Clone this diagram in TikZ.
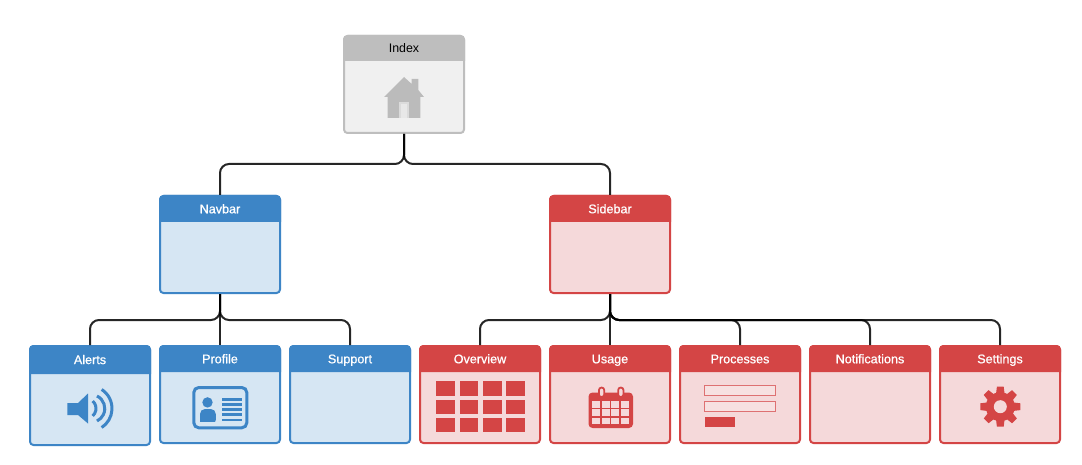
\documentclass[tikz,border=0pt]{standalone}
\usepackage{fontspec}
\setmainfont{Liberation Sans}
\newfontfamily\hdbold[FakeBold=0.8]{Liberation Sans}
\definecolor{bluec}{HTML}{3D85C6}
\definecolor{bluef}{HTML}{D6E6F3}
\definecolor{redc}{HTML}{D44545}
\definecolor{redf}{HTML}{F5D9DA}
\definecolor{grayc}{HTML}{BEBEBE}
\definecolor{grayh}{HTML}{BBBBBB}
\definecolor{grayf}{HTML}{F0F0F0}
\tikzset{
  cardbody/.style={draw=#1,line width=2pt,rounded corners=3.5pt,minimum width=120pt,inner sep=0pt},
  conn/.style={draw=black,opacity=.85,line width=2pt,rounded corners=9pt},
  hdtext/.style={font=\hdbold\fontsize{12.6}{14}\selectfont,text=white,inner sep=0pt,anchor=base},
}
% name, cx, top, bottom, header bottom, label, fill, line, text options
\newcommand{\mycard}[9]{%
  \node[cardbody=#8,fill=#7,minimum height=#4-#3-2] (#1) at (#2,{(#3+#4)/2}) {};
  \fill[#8] (#2-61,#5) [rounded corners=4.5pt] -- (#2-61,#3) -- (#2+61,#3) [sharp corners] -- (#2+61,#5) -- cycle;
  \node[hdtext,#9] (#1-label) at (#2,#5-8.7) {#6};
}
\begin{document}
\begin{tikzpicture}[x=1pt,y=-1pt]
\useasboundingbox (0,0) rectangle (1082,465);
\fill[white] (0,0) rectangle (1082,465);
\coordinate (bustop) at (404,164);
\coordinate (busnav) at (220,320);
\coordinate (bussid) at (610,320);

\mycard{index}{404}{35}{134}{61}{Index}{grayf}{grayc}{text=black,font=\fontsize{12.4}{14}\selectfont}
\mycard{navbar}{220}{195}{294}{222}{Navbar}{bluef}{bluec}{}
\mycard{sidebar}{610}{195}{294}{222}{Sidebar}{redf}{redc}{}
\mycard{alerts}{90}{345}{446}{374}{Alerts}{bluef}{bluec}{yshift=1.2pt}
\mycard{profile}{220}{345}{444}{372}{Profile}{bluef}{bluec}{}
\mycard{support}{350}{345}{444}{372}{Support}{bluef}{bluec}{}
\mycard{overview}{480}{345}{444}{372}{Overview}{redf}{redc}{}
\mycard{usage}{610}{345}{444}{372}{Usage}{redf}{redc}{}
\mycard{processes}{740}{345}{444}{372}{Processes}{redf}{redc}{}
\mycard{notifications}{870}{345}{444}{372}{Notifications}{redf}{redc}{}
\mycard{settings}{1000}{345}{444}{372}{Settings}{redf}{redc}{}

% connectors
\draw[conn] (index.south) -- (index.south |- bustop) -- (navbar.north |- bustop) -- (navbar.north);
\draw[conn] (index.south) -- (index.south |- bustop) -- (sidebar.north |- bustop) -- (sidebar.north);
\foreach \c in {alerts,profile,support}{
  \draw[conn] (navbar.south) -- (navbar.south |- busnav) -- (\c.north |- busnav) -- (\c.north);
}
\foreach \c in {overview,usage,processes,notifications,settings}{
  \draw[conn] (sidebar.south) -- (sidebar.south |- bussid) -- (\c.north |- bussid) -- (\c.north);
}

% house
\fill[grayh] (404,77) -- (411.7,84) -- (411.7,79) -- (418.3,79) -- (418.3,90) -- (424,97) -- (420.3,97) -- (420.3,118) -- (387.7,118) -- (387.7,97) -- (384,97) -- cycle;
\fill[grayf!60!grayh] (399,102) rectangle (409,118);
\fill[grayf!85!grayh] (400.7,104) rectangle (407.3,118);

% speaker
\fill[bluec] (67.3,403) -- (78,403) -- (88,393.5) -- (88,423.5) -- (78,415) -- (67.3,415) -- cycle;
\draw[bluec,line width=3pt] (86,408.5) ++(-48:10) arc (-48:48:10);
\draw[bluec,line width=3pt] (90.9,408.5) ++(-64:13.9) arc (-64:64:13.9);
\draw[bluec,line width=3pt] (89.3,408.5) ++(-57:22.7) arc (-57:57:22.7);

% id card
\draw[bluec,line width=3pt,rounded corners=5pt] (193.8,387.5) rectangle (246.8,427.8);
\fill[bluec] (207.5,402.4) circle (5.2);
\fill[bluec,rounded corners=5pt] (200,425) -- (200,409) -- (215.8,409) -- (215.8,425) [sharp corners] -- cycle;
\fill[bluef] (198,421.8) rectangle (218,426);
\foreach \yy in {397.8,403.2,407.8,413.2,418.5}{
  \fill[bluec] (221.7,\yy) rectangle (241.7,\yy+2.8);
}

% grid
\foreach \xx in {436.3,459.7,483,506.3}{
  \foreach \yy in {381.3,399.7,418}{
    \fill[redc] (\xx,\yy) rectangle (\xx+18.7,\yy+14.3);
  }
}

% calendar
\fill[redc,rounded corners=4pt] (588.5,392.5) rectangle (633,428);
\foreach \xx in {601.6,620.8}{
  \draw[redc,line width=1.8pt,fill=redf,rounded corners=2.4pt] (\xx-2.6,387.6) rectangle (\xx+2.6,397);
}
\foreach \xx in {591.8,601.6,611.4,621.2}{
  \foreach \yy in {401,409.3,417.6}{
    \fill[redf] (\xx,\yy) rectangle (\xx+8,\yy+6.6);
  }
}

% form
\draw[redc!70!redf,line width=1pt,fill=redf!80!white] (704.8,385.3) rectangle (775.3,395.3);
\draw[redc!70!redf,line width=1pt,fill=redf!80!white] (704.8,401.7) rectangle (775.3,411.7);
\fill[redc] (705,417) rectangle (735,427);

% gear
\begin{scope}[shift={(1000.3,406.7)}]
\fill[redc] (0,0) circle (14.5);
\foreach \a in {0,45,...,315}{
  \fill[redc,rotate=\a] (-4.6,-10) -- (-3.4,-20) -- (3.4,-20) -- (4.6,-10) -- cycle;
}
\fill[redf] (0,0) circle (6.5);
\end{scope}
\end{tikzpicture}
\end{document}
